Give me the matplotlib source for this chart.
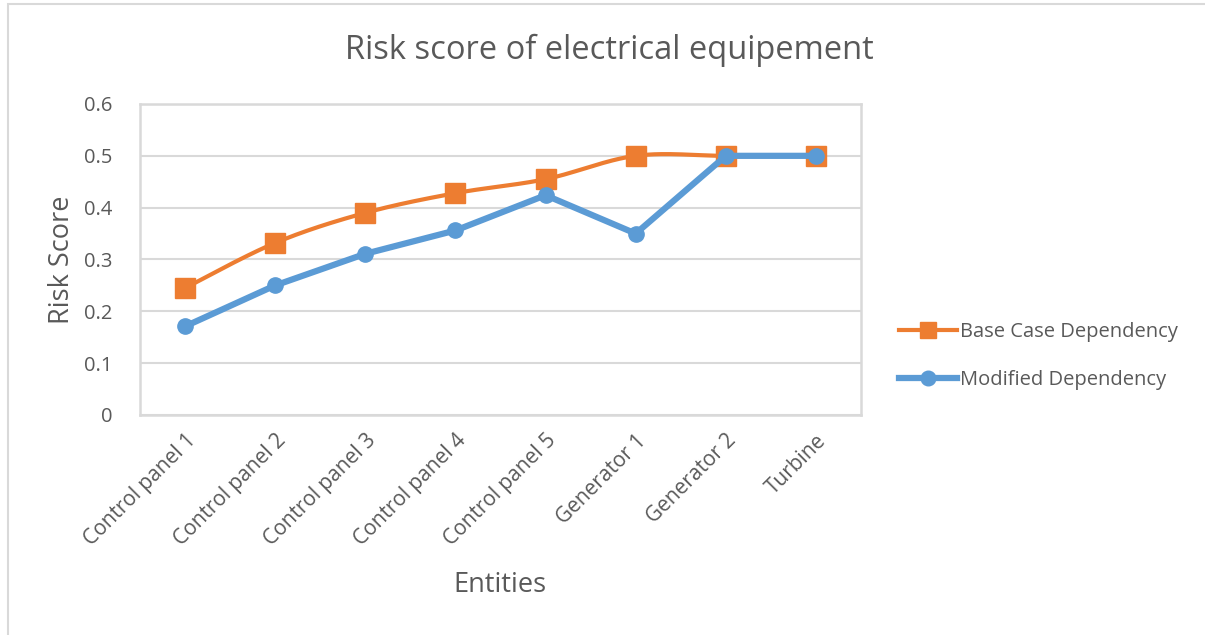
import numpy as np
import matplotlib
matplotlib.use("Agg")
import matplotlib.pyplot as plt
from matplotlib.lines import Line2D
from matplotlib.patches import Rectangle

# Data
entities = ["Control panel 1", "Control panel 2", "Control panel 3", "Control panel 4",
            "Control panel 5", "Generator 1", "Generator 2", "Turbine"]
base_case = [0.245, 0.332, 0.390, 0.428, 0.455, 0.500, 0.500, 0.500]
modified = [0.171, 0.250, 0.311, 0.356, 0.424, 0.350, 0.500, 0.500]

ORANGE = "#ED7D31"
BLUE = "#5B9BD5"
TEXT = "#595959"
GRID = "#D9D9D9"

plt.rcParams["font.family"] = ["Open Sans", "DejaVu Sans"]

W, H = 1205, 635


def smooth_curve(x, y, n=40):
    """Cubic Bezier smoothing through every point (Catmull-Rom style)."""
    pts = np.column_stack([x, y]).astype(float)
    padded = np.vstack([pts[0], pts, pts[-1]])
    out = []
    t = np.linspace(0, 1, n)[:, None]
    for i in range(len(pts) - 1):
        p0, p1, p2, p3 = padded[i], padded[i + 1], padded[i + 2], padded[i + 3]
        c1 = p1 + (p2 - p0) / 6.0
        c2 = p2 - (p3 - p1) / 6.0
        seg = ((1 - t) ** 3) * p1 + 3 * ((1 - t) ** 2) * t * c1 + 3 * (1 - t) * t ** 2 * c2 + t ** 3 * p2
        out.append(seg if i == 0 else seg[1:])
    arr = np.vstack(out)
    return arr[:, 0], arr[:, 1]


fig = plt.figure(figsize=(W / 100, H / 100), dpi=100)
ax = fig.add_axes([140 / W, 1 - 415 / H, (861 - 140) / W, (415 - 104) / H])

x = np.arange(len(entities))

# Base case: smoothed line with square markers
sx, sy = smooth_curve(x, base_case)
ax.plot(sx, sy, color=ORANGE, lw=3.0, solid_capstyle="round", zorder=3)
ax.plot(x, base_case, ls="none", marker="s", ms=14, color=ORANGE, mec=ORANGE, zorder=4)

# Modified dependency: straight segments with circle markers
ax.plot(x, modified, color=BLUE, lw=4.5, marker="o", ms=11, mec=BLUE,
        solid_capstyle="round", zorder=5)

ax.set_xlim(-0.5, len(entities) - 0.5)
ax.set_ylim(0, 0.6)
ax.set_yticks(np.arange(0, 0.61, 0.1))
ax.set_yticklabels(["0", "0.1", "0.2", "0.3", "0.4", "0.5", "0.6"])
ax.set_xticks(x)
ax.set_xticklabels(entities, rotation=45, ha="right", rotation_mode="anchor")

ax.grid(axis="y", color=GRID, lw=1.5)
ax.set_axisbelow(True)
for s in ax.spines.values():
    s.set_color(GRID)
    s.set_linewidth(1.8)
ax.tick_params(axis="both", length=0, colors=TEXT, labelsize=14.5)
ax.tick_params(axis="x", labelsize=15)
ax.tick_params(axis="y", pad=20)
ax.tick_params(axis="x", pad=11)

fig.text(62 / W, 1 - 260 / H, "Risk Score", rotation=90, ha="center", va="center",
         fontsize=19.5, color=TEXT)
fig.text(500 / W, 1 - 585 / H, "Entities", ha="center", va="center",
         fontsize=19.5, color=TEXT)
fig.text(609 / W, 1 - 50 / H, "Risk score of electrical equipement",
         ha="center", va="center", fontsize=23.5, color=TEXT)

handles = [
    Line2D([], [], color=ORANGE, lw=3.0, marker="s", ms=12),
    Line2D([], [], color=BLUE, lw=4.5, marker="o", ms=10.5),
]
fig.legend(handles, ["Base Case Dependency", "Modified Dependency"],
           loc="center left", bbox_to_anchor=(899 / W, 1 - 356 / H),
           frameon=False, fontsize=14.5, labelcolor=TEXT,
           handlelength=2.9, handletextpad=0.15, labelspacing=1.35,
           borderpad=0, borderaxespad=0)

# Outer chart frame
fig.patches.append(Rectangle((8 / W, -0.05), 1.1, 1 - 4 / H + 0.05,
                             transform=fig.transFigure, fill=False,
                             edgecolor=GRID, lw=1.5))

fig.savefig("out.png", dpi=100, facecolor="white")
